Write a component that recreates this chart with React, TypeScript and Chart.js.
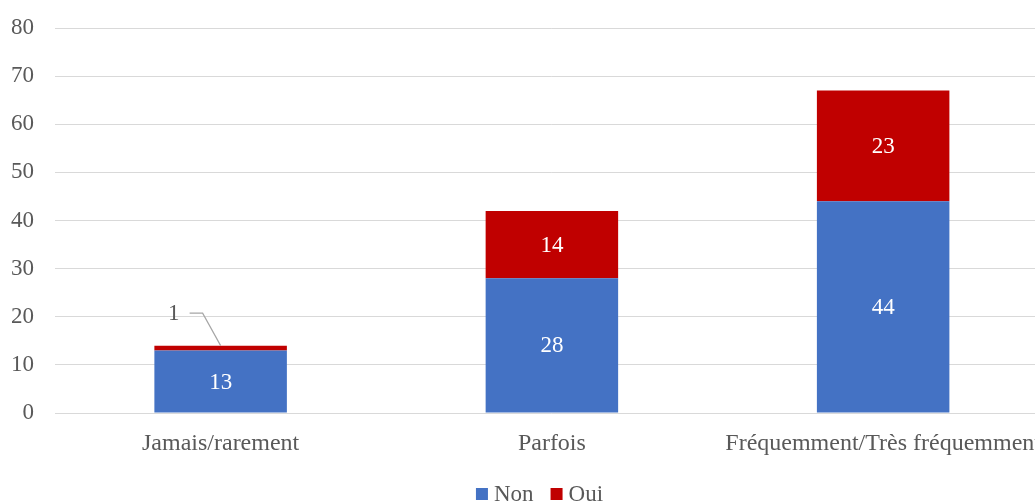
import React, { useEffect, useRef } from "react";
import { Chart, registerables } from "chart.js";

Chart.register(...registerables);

const categories = ["Jamais/rarement", "Parfois", "Fréquemment/Très fréquemment"];
const nonValues = [13, 28, 44];
const ouiValues = [1, 14, 23];
const seriesNames = ["Non", "Oui"];
const seriesColors = ["#4472C4", "#C00000"];
const yTicks = [0, 10, 20, 30, 40, 50, 60, 70, 80];

const FONT = "'Liberation Serif', 'Times New Roman', serif";
const TEXT = "#595959";

const labelsPlugin = {
  id: "barLabels",
  afterDatasetsDraw(chart: any) {
    const ctx = chart.ctx;
    ctx.save();
    ctx.font = `23px ${FONT}`;
    ctx.textAlign = "center";
    ctx.textBaseline = "middle";
    chart.data.datasets.forEach((ds: any, i: number) => {
      const meta = chart.getDatasetMeta(i);
      meta.data.forEach((el: any, j: number) => {
        const v = ds.data[j];
        const h = Math.abs(el.base - el.y);
        if (h < 20) {
          const lx = el.x - 47;
          const ly = el.y - 33;
          ctx.strokeStyle = "#A6A6A6";
          ctx.lineWidth = 1.2;
          ctx.beginPath();
          ctx.moveTo(lx + 16, ly + 0.5);
          ctx.lineTo(lx + 29, ly + 0.5);
          ctx.lineTo(el.x, el.y);
          ctx.stroke();
          ctx.fillStyle = TEXT;
          ctx.fillText(String(v), lx, ly + 1);
        } else {
          ctx.fillStyle = "#FFFFFF";
          ctx.fillText(String(v), el.x, (el.y + el.base) / 2 + 1);
        }
      });
    });
    ctx.restore();
  },
};

const legendPlugin = {
  id: "customLegend",
  afterDraw(chart: any) {
    const ctx = chart.ctx;
    ctx.save();
    ctx.font = `23px ${FONT}`;
    ctx.textBaseline = "middle";
    ctx.textAlign = "left";
    const box = 12;
    const gapText = 6;
    const gapItem = 17;
    const widths = seriesNames.map((n) => ctx.measureText(n).width);
    const total = widths.reduce((a, w) => a + box + gapText + w, 0) + gapItem * (seriesNames.length - 1);
    let x = 539.5 - total / 2;
    const cy = 494;
    seriesNames.forEach((n, i) => {
      ctx.fillStyle = seriesColors[i];
      ctx.fillRect(x, cy - box / 2, box, box);
      ctx.fillStyle = TEXT;
      ctx.fillText(n, x + box + gapText, cy + 1);
      x += box + gapText + widths[i] + gapItem;
    });
    ctx.restore();
  },
};

export default function App() {
  const ref = useRef<HTMLCanvasElement | null>(null);
  useEffect(() => {
    if (!ref.current) return;
    const chart = new Chart(ref.current, {
      type: "bar",
      data: {
        labels: categories,
        datasets: [
          { label: seriesNames[0], data: nonValues, backgroundColor: seriesColors[0], barPercentage: 0.4, categoryPercentage: 1 },
          { label: seriesNames[1], data: ouiValues, backgroundColor: seriesColors[1], barPercentage: 0.4, categoryPercentage: 1 },
        ],
      },
      options: {
        animation: false,
        responsive: true,
        maintainAspectRatio: false,
        layout: { padding: { top: 28, right: 0, bottom: 0, left: 0 } },
        plugins: { legend: { display: false }, tooltip: { enabled: false } },
        scales: {
          x: {
            stacked: true,
            grid: { display: false, drawTicks: false },
            border: { display: false },
            ticks: {
              color: TEXT,
              font: { family: FONT, size: 24 },
              padding: 16,
              maxRotation: 0,
              minRotation: 0,
              autoSkip: false,
            },
            afterFit: (s: any) => {
              s.height = 88;
            },
          },
          y: {
            stacked: true,
            min: 0,
            max: 80,
            afterBuildTicks: (s: any) => {
              s.ticks = yTicks.map((v) => ({ value: v }));
            },
            grid: { color: "#D9D9D9", lineWidth: 1, drawTicks: false },
            border: { display: false },
            ticks: {
              color: TEXT,
              font: { family: FONT, size: 23, lineHeight: 0.3 },
              padding: 21,
            },
            afterFit: (s: any) => {
              s.width = 55;
            },
          },
        },
      },
      plugins: [labelsPlugin, legendPlugin],
    });
    return () => chart.destroy();
  }, []);
  return (
    <div style={{ position: "fixed", left: 0, top: 0, width: 1035, height: 501, overflow: "hidden", background: "#fff" }}>
      <div style={{ position: "relative", width: 1057, height: 501 }}>
        <canvas ref={ref} />
      </div>
    </div>
  );
}
